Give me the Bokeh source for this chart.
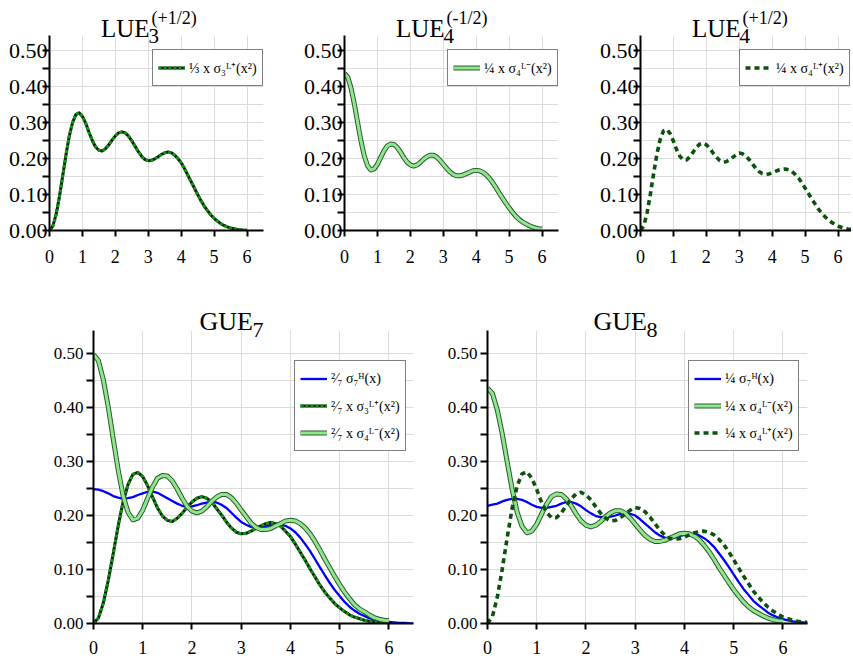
from bokeh.plotting import figure
from bokeh.models import (Range1d, FixedTicker, Label, Legend, LegendItem,
                          PrintfTickFormatter, BoxAnnotation)
from bokeh.layouts import column, row
from bokeh.embed import file_html
from bokeh.resources import INLINE
from bokeh.core.properties import value

# ---------------- data ----------------
x_lue = [0.0, 0.1, 0.2, 0.3, 0.4, 0.5, 0.6, 0.7, 0.8, 0.9,
         1.0, 1.1, 1.2, 1.3, 1.4, 1.5, 1.6, 1.7, 1.8, 1.9,
         2.0, 2.1, 2.2, 2.3, 2.4, 2.5, 2.6, 2.7, 2.8, 2.9,
         3.0, 3.1, 3.2, 3.3, 3.4, 3.5, 3.6, 3.7, 3.8, 3.9,
         4.0, 4.1, 4.2, 4.3, 4.4, 4.5, 4.6, 4.7, 4.8, 4.9,
         5.0, 5.1, 5.2, 5.3, 5.4, 5.5, 5.6, 5.7, 5.8, 5.9, 6.0]
x_gue = x_lue + [6.1, 6.2, 6.3, 6.4, 6.5]

# 1/3 x sigma_3^{L+}(x^2)
lue3_plus = [0.000, 0.012, 0.044, 0.093, 0.151, 0.210, 0.262, 0.300, 0.322, 0.327,
             0.317, 0.298, 0.273, 0.250, 0.232, 0.223, 0.221, 0.227, 0.238, 0.251,
             0.263, 0.271, 0.274, 0.271, 0.262, 0.249, 0.234, 0.219, 0.206, 0.197,
             0.194, 0.195, 0.199, 0.205, 0.211, 0.216, 0.218, 0.216, 0.210, 0.200,
             0.188, 0.172, 0.154, 0.136, 0.118, 0.100, 0.083, 0.068, 0.055, 0.043,
             0.034, 0.026, 0.019, 0.014, 0.010, 0.007, 0.005, 0.003, 0.002, 0.001, 0.001]
# 1/4 x sigma_4^{L-}(x^2)
lue4_minus = [0.436, 0.426, 0.395, 0.351, 0.299, 0.249, 0.207, 0.180, 0.168, 0.171,
              0.184, 0.203, 0.221, 0.235, 0.240, 0.239, 0.231, 0.218, 0.203, 0.190,
              0.182, 0.179, 0.182, 0.189, 0.198, 0.205, 0.209, 0.209, 0.204, 0.195,
              0.184, 0.173, 0.163, 0.156, 0.152, 0.152, 0.154, 0.158, 0.162, 0.166,
              0.167, 0.166, 0.162, 0.155, 0.145, 0.133, 0.119, 0.104, 0.090, 0.076,
              0.063, 0.051, 0.040, 0.031, 0.024, 0.019, 0.014, 0.010, 0.007, 0.005, 0.004]
# 1/4 x sigma_4^{L+}(x^2)
lue4_plus = [0.000, 0.013, 0.049, 0.101, 0.159, 0.213, 0.254, 0.277, 0.281, 0.269,
             0.248, 0.224, 0.206, 0.196, 0.196, 0.205, 0.218, 0.231, 0.240, 0.243,
             0.238, 0.229, 0.216, 0.204, 0.195, 0.190, 0.191, 0.196, 0.203, 0.210,
             0.215, 0.213, 0.207, 0.197, 0.185, 0.173, 0.164, 0.158, 0.156, 0.157,
             0.160, 0.164, 0.168, 0.170, 0.171, 0.169, 0.164, 0.156, 0.146, 0.133,
             0.118, 0.103, 0.088, 0.074, 0.060, 0.049, 0.039, 0.030, 0.023, 0.017,
             0.012, 0.009, 0.006, 0.004, 0.003, 0.002]
# GUE_7 panel
gue7_h = [0.249, 0.248, 0.245, 0.241, 0.236, 0.233, 0.231, 0.232, 0.234, 0.238,
          0.241, 0.244, 0.244, 0.242, 0.237, 0.232, 0.227, 0.222, 0.218, 0.216,
          0.217, 0.219, 0.222, 0.224, 0.226, 0.224, 0.220, 0.214, 0.205, 0.196,
          0.188, 0.183, 0.179, 0.177, 0.178, 0.180, 0.182, 0.183, 0.183, 0.181,
          0.176, 0.169, 0.159, 0.147, 0.134, 0.119, 0.104, 0.089, 0.075, 0.062,
          0.051, 0.040, 0.031, 0.024, 0.018, 0.014, 0.010, 0.007, 0.005, 0.004,
          0.003, 0.002, 0.001, 0.001, 0.0005, 0.0003]
gue7_l3p = [0.000, 0.010, 0.038, 0.080, 0.129, 0.180, 0.225, 0.257, 0.276, 0.280,
            0.272, 0.255, 0.234, 0.214, 0.199, 0.191, 0.189, 0.195, 0.204, 0.215,
            0.225, 0.232, 0.235, 0.232, 0.225, 0.213, 0.201, 0.188, 0.177, 0.169,
            0.166, 0.167, 0.171, 0.176, 0.181, 0.185, 0.187, 0.185, 0.180, 0.171,
            0.161, 0.147, 0.132, 0.117, 0.101, 0.086, 0.071, 0.058, 0.047, 0.037,
            0.029, 0.022, 0.016, 0.012, 0.009, 0.006, 0.004, 0.003, 0.002, 0.001, 0.001]
gue7_l4m = [0.498, 0.487, 0.451, 0.401, 0.342, 0.285, 0.237, 0.206, 0.192, 0.195,
            0.210, 0.232, 0.253, 0.269, 0.274, 0.273, 0.264, 0.249, 0.232, 0.217,
            0.208, 0.205, 0.208, 0.216, 0.226, 0.234, 0.239, 0.239, 0.233, 0.223,
            0.210, 0.198, 0.186, 0.178, 0.174, 0.174, 0.176, 0.181, 0.185, 0.190,
            0.191, 0.190, 0.185, 0.177, 0.166, 0.152, 0.136, 0.119, 0.103, 0.087,
            0.072, 0.058, 0.046, 0.035, 0.027, 0.022, 0.016, 0.011, 0.008, 0.006, 0.005]
# GUE_8 panel (blue curve; the other two are lue4_minus and lue4_plus)
gue8_h = [0.218, 0.220, 0.222, 0.226, 0.229, 0.231, 0.231, 0.229, 0.225, 0.220,
          0.216, 0.214, 0.214, 0.216, 0.218, 0.222, 0.225, 0.225, 0.222, 0.217,
          0.210, 0.204, 0.199, 0.197, 0.197, 0.198, 0.200, 0.203, 0.204, 0.203,
          0.200, 0.193, 0.185, 0.177, 0.169, 0.163, 0.159, 0.158, 0.159, 0.162,
          0.164, 0.165, 0.165, 0.163, 0.158, 0.151, 0.142, 0.130, 0.118, 0.105,
          0.091, 0.077, 0.064, 0.053, 0.042, 0.034, 0.027, 0.020, 0.015, 0.011,
          0.008, 0.006, 0.004, 0.003, 0.002, 0.001]

x_ticks = [0, 1, 2, 3, 4, 5, 6]
y_ticks = [0.0, 0.1, 0.2, 0.3, 0.4, 0.5]
y_minor = [0.05, 0.15, 0.25, 0.35, 0.45]
Y_AXIS_TOP = 0.542

SERIF = "Liberation Serif"
BLUE = "#0000ff"
GRID = "#dcdcdc"


def make_fig(width, height, bl, br, bb, xmax, ytop, ysize, xsize, ystand, xstand):
    p = figure(width=width, height=height, x_range=Range1d(0, xmax), y_range=Range1d(0, ytop),
               output_backend="svg", toolbar_location=None, title=None,
               min_border_left=bl, min_border_right=br, min_border_top=0, min_border_bottom=bb)
    p.outline_line_color = None
    p.background_fill_color = "white"
    p.border_fill_color = "white"
    xt = FixedTicker(ticks=x_ticks)
    yt = FixedTicker(ticks=y_ticks, minor_ticks=y_minor)
    p.xaxis.ticker = xt
    p.yaxis.ticker = yt
    p.xgrid.ticker = xt
    p.ygrid.ticker = yt
    p.xgrid.grid_line_color = GRID
    p.ygrid.grid_line_color = GRID
    p.ygrid.minor_grid_line_color = GRID
    p.xgrid.grid_line_width = 1
    p.ygrid.grid_line_width = 1
    for ax in (p.xaxis[0], p.yaxis[0]):
        ax.axis_line_width = 2
        ax.axis_line_color = "black"
        ax.major_tick_line_width = 2
        ax.major_tick_line_color = "black"
        ax.major_tick_in = 0
        ax.major_label_text_font = SERIF
        ax.major_label_text_color = "black"
    p.xaxis.major_tick_out = 6
    p.xaxis.minor_tick_out = 0
    p.xaxis.minor_tick_in = 0
    p.xaxis.major_label_text_font_size = xsize
    p.xaxis.major_label_standoff = xstand
    p.xaxis.formatter = PrintfTickFormatter(format="%d")
    p.yaxis.bounds = (0, Y_AXIS_TOP)
    p.yaxis.major_tick_out = 7
    p.yaxis.minor_tick_out = 7
    p.yaxis.minor_tick_in = 0
    p.yaxis.minor_tick_line_width = 2
    p.yaxis.minor_tick_line_color = "black"
    p.yaxis.major_label_text_font_size = ysize
    p.yaxis.major_label_standoff = ystand
    p.yaxis.formatter = PrintfTickFormatter(format="%.2f")
    # white band above the y axis: the grid stops where the axis stops
    p.add_layout(BoxAnnotation(bottom=Y_AXIS_TOP, fill_color="white", fill_alpha=1.0,
                               line_color=None, level="glyph"))
    return p


def blue_line(p, x, y):
    return [p.line(x, y, line_color=BLUE, line_width=2.3, line_join="round")]


def green_double(p, x, y):
    r1 = p.line(x, y, line_color="#2d5a2d", line_width=5, line_join="round")
    r2 = p.line(x, y, line_color="#8fe68f", line_width=3, line_join="round")
    return [r1, r2]


def dotted_fine(p, x, y):
    r1 = p.line(x, y, line_color="#151515", line_width=3, line_join="round")
    r2 = p.line(x, y, line_color="#0a9a0a", line_width=3, line_dash="3 2")
    return [r1, r2]


def dotted_bold(p, x, y):
    return [p.line(x, y, line_color="#0b520b", line_width=3.6, line_dash="5 4")]


def add_legend(p, entries, lx, ly):
    items = [LegendItem(label=value(t), renderers=r) for t, r in entries]
    leg = Legend(items=items, location=(lx, ly), orientation="vertical",
                 border_line_color="black", border_line_width=1,
                 background_fill_color="white", background_fill_alpha=1.0,
                 label_text_font=SERIF, label_text_font_size="14px", label_text_color="black",
                 glyph_width=27, glyph_height=25, label_height=25, label_width=66,
                 label_standoff=4, padding=5, spacing=2, margin=0)
    p.add_layout(leg)


def txt(p, x, y, s, size):
    p.add_layout(Label(x=x, y=y, x_units="screen", y_units="screen", text=s,
                       text_font=SERIF, text_font_size=size, text_color="black",
                       text_baseline="alphabetic", text_align="left"))


# ---------------- top row (frame bottom at 230 px) ----------------
TOP_H, TOP_BB = 269, 39
TOP_FH = TOP_H - TOP_BB            # 230 px of frame
TOP_YT = TOP_FH / 360.0            # 360 px per unit on y


def lue_title(p, sub, sup):
    txt(p, 51.5, 202, "LUE", "25px")
    txt(p, 99, 195, sub, "21px")
    txt(p, 102, 213, sup, "18px")


f1 = make_fig(300, TOP_H, 49, 37, TOP_BB, 6.5, TOP_YT, "22px", "18px", -5, 13)
r = dotted_fine(f1, x_lue, lue3_plus)
add_legend(f1, [("⅓ x σ₃ᴸ⁺(x²)", r)], 103, 144)
lue_title(f1, "3", "(+1/2)")

f2 = make_fig(295, TOP_H, 44, 37, TOP_BB, 6.5, TOP_YT, "22px", "18px", -5, 13)
r = green_double(f2, x_lue, lue4_minus)
add_legend(f2, [("¼ x σ₄ᴸ⁻(x²)", r)], 103, 144)
lue_title(f2, "4", "(-1/2)")

f3 = make_fig(256, TOP_H, 45, 0, TOP_BB, 6.41, TOP_YT, "22px", "18px", -5, 13)
r = dotted_bold(f3, x_gue, lue4_plus)
add_legend(f3, [("¼ x σ₄ᴸ⁺(x²)", r)], 99, 144)
lue_title(f3, "4", "(+1/2)")

# ---------------- bottom row ----------------
BOT_H, BOT_BB = 392, 38
BOT_FH = BOT_H - BOT_BB            # 354 px of frame
BOT_YT = BOT_FH / 540.0            # 540 px per unit on y


def gue_title(p, sub):
    txt(p, 106, 302, "GUE", "26px")
    txt(p, 159, 294, sub, "22px")


f4 = make_fig(440, BOT_H, 93, 27, BOT_BB, 6.5, BOT_YT, "17px", "18px", 3, 11)
rb = blue_line(f4, x_gue, gue7_h)
rd = dotted_fine(f4, x_lue, gue7_l3p)
rg = green_double(f4, x_lue, gue7_l4m)
add_legend(f4, [("²⁄₇ σ₇ᴴ(x)", rb), ("²⁄₇ x σ₃ᴸ⁺(x²)", rd), ("²⁄₇ x σ₄ᴸ⁻(x²)", rg)],
           201, 172)
gue_title(f4, "7")

f5 = make_fig(411, BOT_H, 47, 44, BOT_BB, 6.5, BOT_YT, "17px", "18px", 3, 11)
rb = blue_line(f5, x_gue, gue8_h)
rg = green_double(f5, x_lue, lue4_minus)
rd = dotted_bold(f5, x_gue, lue4_plus)
add_legend(f5, [("¼ σ₇ᴴ(x)", rb), ("¼ x σ₄ᴸ⁻(x²)", rg), ("¼ x σ₄ᴸ⁺(x²)", rd)],
           201, 172)
gue_title(f5, "8")

layout = column(row(f1, f2, f3, spacing=0), row(f4, f5, spacing=0), spacing=0)

with open("out.html", "w") as fh:
    fh.write(file_html(layout, INLINE, title="LUE / GUE densities"))
